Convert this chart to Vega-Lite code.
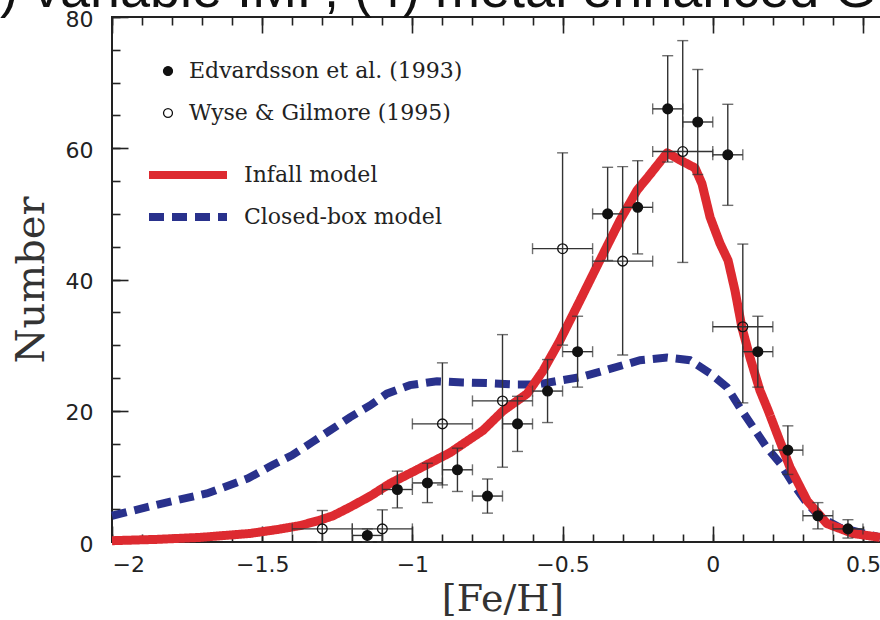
{
  "$schema": "https://vega.github.io/schema/vega-lite/v6.json",
  "width": 781,
  "height": 525,
  "autosize": {"type": "none"},
  "padding": {"left": 112, "top": 17, "right": 0, "bottom": 78},
  "title": {
    "text": ") variable IMF, (4) metal enhanced G",
    "anchor": "start",
    "frame": "group",
    "orient": "top",
    "font": "Liberation Sans",
    "fontSize": 54,
    "fontWeight": "normal",
    "color": "#111",
    "baseline": "alphabetic",
    "offset": -53,
    "limit": 1500,
    "dx": -112
  },
  "datasets": {
    "models": [
      {"model": "Closed-box model", "feh": -2.0, "n": 4.0},
      {"model": "Closed-box model", "feh": -1.83, "n": 5.9},
      {"model": "Closed-box model", "feh": -1.684, "n": 7.4},
      {"model": "Closed-box model", "feh": -1.547, "n": 9.7},
      {"model": "Closed-box model", "feh": -1.467, "n": 11.7},
      {"model": "Closed-box model", "feh": -1.401, "n": 13.2},
      {"model": "Closed-box model", "feh": -1.334, "n": 15.2},
      {"model": "Closed-box model", "feh": -1.274, "n": 17.0},
      {"model": "Closed-box model", "feh": -1.208, "n": 19.0},
      {"model": "Closed-box model", "feh": -1.141, "n": 20.8},
      {"model": "Closed-box model", "feh": -1.085, "n": 22.6},
      {"model": "Closed-box model", "feh": -1.008, "n": 23.9},
      {"model": "Closed-box model", "feh": -0.918, "n": 24.5},
      {"model": "Closed-box model", "feh": -0.832, "n": 24.3},
      {"model": "Closed-box model", "feh": -0.742, "n": 24.2},
      {"model": "Closed-box model", "feh": -0.652, "n": 24.0},
      {"model": "Closed-box model", "feh": -0.585, "n": 24.0},
      {"model": "Closed-box model", "feh": -0.509, "n": 24.6},
      {"model": "Closed-box model", "feh": -0.442, "n": 25.1},
      {"model": "Closed-box model", "feh": -0.386, "n": 25.8},
      {"model": "Closed-box model", "feh": -0.242, "n": 27.7},
      {"model": "Closed-box model", "feh": -0.152, "n": 28.1},
      {"model": "Closed-box model", "feh": -0.076, "n": 27.7},
      {"model": "Closed-box model", "feh": -0.009, "n": 25.7},
      {"model": "Closed-box model", "feh": 0.047, "n": 23.6},
      {"model": "Closed-box model", "feh": 0.09, "n": 20.5},
      {"model": "Closed-box model", "feh": 0.134, "n": 17.5},
      {"model": "Closed-box model", "feh": 0.18, "n": 14.4},
      {"model": "Closed-box model", "feh": 0.224, "n": 12.0},
      {"model": "Closed-box model", "feh": 0.267, "n": 8.9},
      {"model": "Closed-box model", "feh": 0.314, "n": 5.9},
      {"model": "Closed-box model", "feh": 0.357, "n": 3.8},
      {"model": "Closed-box model", "feh": 0.423, "n": 2.2},
      {"model": "Closed-box model", "feh": 0.557, "n": 0.7},
      {"model": "Infall model", "feh": -2.0, "n": 0.2},
      {"model": "Infall model", "feh": -1.85, "n": 0.4},
      {"model": "Infall model", "feh": -1.707, "n": 0.7},
      {"model": "Infall model", "feh": -1.541, "n": 1.3},
      {"model": "Infall model", "feh": -1.45, "n": 1.9},
      {"model": "Infall model", "feh": -1.374, "n": 2.5},
      {"model": "Infall model", "feh": -1.31, "n": 3.3},
      {"model": "Infall model", "feh": -1.264, "n": 4.0},
      {"model": "Infall model", "feh": -1.208, "n": 5.3},
      {"model": "Infall model", "feh": -1.14, "n": 7.0},
      {"model": "Infall model", "feh": -1.075, "n": 8.9},
      {"model": "Infall model", "feh": -0.985, "n": 11.0},
      {"model": "Infall model", "feh": -0.875, "n": 13.6},
      {"model": "Infall model", "feh": -0.765, "n": 17.0},
      {"model": "Infall model", "feh": -0.698, "n": 20.0},
      {"model": "Infall model", "feh": -0.618, "n": 22.6},
      {"model": "Infall model", "feh": -0.565, "n": 26.1},
      {"model": "Infall model", "feh": -0.509, "n": 30.7},
      {"model": "Infall model", "feh": -0.442, "n": 36.8},
      {"model": "Infall model", "feh": -0.376, "n": 42.9},
      {"model": "Infall model", "feh": -0.309, "n": 49.0},
      {"model": "Infall model", "feh": -0.252, "n": 53.6},
      {"model": "Infall model", "feh": -0.209, "n": 56.0},
      {"model": "Infall model", "feh": -0.152, "n": 59.3},
      {"model": "Infall model", "feh": -0.109, "n": 58.2},
      {"model": "Infall model", "feh": -0.059, "n": 57.0},
      {"model": "Infall model", "feh": -0.036, "n": 54.6},
      {"model": "Infall model", "feh": -0.009, "n": 49.5},
      {"model": "Infall model", "feh": 0.024, "n": 45.5},
      {"model": "Infall model", "feh": 0.051, "n": 42.9},
      {"model": "Infall model", "feh": 0.074, "n": 38.3},
      {"model": "Infall model", "feh": 0.097, "n": 32.7},
      {"model": "Infall model", "feh": 0.124, "n": 28.1},
      {"model": "Infall model", "feh": 0.157, "n": 23.1},
      {"model": "Infall model", "feh": 0.184, "n": 20.1},
      {"model": "Infall model", "feh": 0.214, "n": 16.5},
      {"model": "Infall model", "feh": 0.257, "n": 11.4},
      {"model": "Infall model", "feh": 0.314, "n": 6.3},
      {"model": "Infall model", "feh": 0.38, "n": 2.8},
      {"model": "Infall model", "feh": 0.467, "n": 1.3},
      {"model": "Infall model", "feh": 0.557, "n": 0.7}
    ],
    "obs": [
      {"dataset": "Edvardsson et al. (1993)", "feh": -1.15, "n": 1, "nlo": 0, "nhi": 2, "fehlo": -1.2, "fehhi": -1.1},
      {"dataset": "Edvardsson et al. (1993)", "feh": -1.05, "n": 8, "nlo": 5.2, "nhi": 10.8, "fehlo": -1.1, "fehhi": -1.0},
      {"dataset": "Edvardsson et al. (1993)", "feh": -0.95, "n": 9, "nlo": 6, "nhi": 12, "fehlo": -1.0, "fehhi": -0.9},
      {"dataset": "Edvardsson et al. (1993)", "feh": -0.85, "n": 11, "nlo": 7.7, "nhi": 14.3, "fehlo": -0.9, "fehhi": -0.8},
      {"dataset": "Edvardsson et al. (1993)", "feh": -0.75, "n": 7, "nlo": 4.4, "nhi": 9.6, "fehlo": -0.8, "fehhi": -0.7},
      {"dataset": "Edvardsson et al. (1993)", "feh": -0.65, "n": 18, "nlo": 13.8, "nhi": 22.2, "fehlo": -0.7, "fehhi": -0.6},
      {"dataset": "Edvardsson et al. (1993)", "feh": -0.55, "n": 23, "nlo": 18.2, "nhi": 27.8, "fehlo": -0.6, "fehhi": -0.5},
      {"dataset": "Edvardsson et al. (1993)", "feh": -0.45, "n": 29, "nlo": 23.6, "nhi": 34.4, "fehlo": -0.5, "fehhi": -0.4},
      {"dataset": "Edvardsson et al. (1993)", "feh": -0.35, "n": 50, "nlo": 42.9, "nhi": 57.1, "fehlo": -0.4, "fehhi": -0.3},
      {"dataset": "Edvardsson et al. (1993)", "feh": -0.25, "n": 51, "nlo": 43.9, "nhi": 58.1, "fehlo": -0.3, "fehhi": -0.2},
      {"dataset": "Edvardsson et al. (1993)", "feh": -0.15, "n": 66, "nlo": 57.9, "nhi": 74.1, "fehlo": -0.2, "fehhi": -0.1},
      {"dataset": "Edvardsson et al. (1993)", "feh": -0.05, "n": 64, "nlo": 56, "nhi": 72, "fehlo": -0.1, "fehhi": 0.0},
      {"dataset": "Edvardsson et al. (1993)", "feh": 0.05, "n": 59, "nlo": 51.3, "nhi": 66.7, "fehlo": 0.0, "fehhi": 0.1},
      {"dataset": "Edvardsson et al. (1993)", "feh": 0.15, "n": 29, "nlo": 23.6, "nhi": 34.4, "fehlo": 0.1, "fehhi": 0.2},
      {"dataset": "Edvardsson et al. (1993)", "feh": 0.25, "n": 14, "nlo": 10.3, "nhi": 17.7, "fehlo": 0.2, "fehhi": 0.3},
      {"dataset": "Edvardsson et al. (1993)", "feh": 0.35, "n": 4, "nlo": 2, "nhi": 6, "fehlo": 0.3, "fehhi": 0.4},
      {"dataset": "Edvardsson et al. (1993)", "feh": 0.45, "n": 2, "nlo": 0.6, "nhi": 3.4, "fehlo": 0.4, "fehhi": 0.5},
      {"dataset": "Wyse & Gilmore (1995)", "feh": -1.3, "n": 2, "nlo": 0, "nhi": 4.8, "fehlo": -1.4, "fehhi": -1.2},
      {"dataset": "Wyse & Gilmore (1995)", "feh": -1.1, "n": 2, "nlo": 0, "nhi": 4.9, "fehlo": -1.2, "fehhi": -1.0},
      {"dataset": "Wyse & Gilmore (1995)", "feh": -0.9, "n": 18, "nlo": 8.7, "nhi": 27.3, "fehlo": -1.0, "fehhi": -0.8},
      {"dataset": "Wyse & Gilmore (1995)", "feh": -0.7, "n": 21.5, "nlo": 11.4, "nhi": 31.6, "fehlo": -0.8, "fehhi": -0.6},
      {"dataset": "Wyse & Gilmore (1995)", "feh": -0.5, "n": 44.7, "nlo": 30, "nhi": 59.3, "fehlo": -0.6, "fehhi": -0.4},
      {"dataset": "Wyse & Gilmore (1995)", "feh": -0.3, "n": 42.8, "nlo": 28.5, "nhi": 57.2, "fehlo": -0.4, "fehhi": -0.2},
      {"dataset": "Wyse & Gilmore (1995)", "feh": -0.1, "n": 59.5, "nlo": 42.6, "nhi": 76.4, "fehlo": -0.2, "fehhi": 0.0},
      {"dataset": "Wyse & Gilmore (1995)", "feh": 0.1, "n": 32.8, "nlo": 21.2, "nhi": 45.4, "fehlo": 0.0, "fehhi": 0.2}
    ]
  },
  "layer": [
    {
      "data": {"name": "models"},
      "transform": [{"filter": "datum.model === 'Closed-box model'"}],
      "mark": {"type": "line", "strokeWidth": 8, "strokeCap": "butt"},
      "encoding": {
        "x": {"field": "feh", "type": "quantitative", "scale": {"domain": [-2, 0.6], "nice": false, "zero": false},
          "axis": {"orient": "bottom", "values": [-2, -1.9, -1.8, -1.7, -1.6, -1.5, -1.4, -1.3, -1.2, -1.1, -1, -0.9, -0.8, -0.7, -0.6, -0.5, -0.4, -0.3, -0.2, -0.1, 0, 0.1, 0.2, 0.3, 0.4, 0.5, 0.6], "tickSize": -8, "labels": false, "title": null}},
        "y": {"field": "n", "type": "quantitative", "scale": {"domain": [0, 80], "nice": false, "zero": false},
          "axis": {"orient": "left", "values": [0, 5, 10, 15, 20, 25, 30, 35, 40, 45, 50, 55, 60, 65, 70, 75, 80], "tickSize": -8, "labels": false, "title": null}},
        "stroke": {"field": "model", "type": "nominal", "scale": {"domain": ["Infall model", "Closed-box model"], "range": ["#dd2a30", "#29318c"]},
          "legend": {"orient": "none", "legendX": 33, "legendY": 148, "title": null, "symbolType": "stroke", "symbolSize": 6084, "symbolStrokeWidth": 8, "labelOffset": 13, "rowPadding": 20, "clipHeight": 20, "padding": 0}},
        "strokeDash": {"field": "model", "type": "nominal", "scale": {"domain": ["Infall model", "Closed-box model"], "range": [[1, 0], [15, 8]]},
          "legend": {"orient": "none", "legendX": 33, "legendY": 148, "title": null, "symbolType": "stroke", "symbolSize": 6084, "symbolStrokeWidth": 8, "labelOffset": 13, "rowPadding": 20, "clipHeight": 20, "padding": 0}}
      }
    },
    {
      "data": {"name": "models"},
      "transform": [{"filter": "datum.model === 'Infall model'"}],
      "mark": {"type": "line", "strokeWidth": 9, "strokeJoin": "round"},
      "encoding": {
        "x": {"field": "feh", "type": "quantitative", "scale": {"domain": [-2, 0.6], "nice": false, "zero": false},
          "axis": {"orient": "bottom", "values": [-2, -1.5, -1, -0.5, 0, 0.5], "format": "~g", "tickSize": -16, "labelPadding": 28, "title": "[Fe/H]", "titleFontSize": 38, "titlePadding": 5}},
        "y": {"field": "n", "type": "quantitative", "scale": {"domain": [0, 80], "nice": false, "zero": false},
          "axis": {"orient": "left", "values": [0, 20, 40, 60, 80], "format": "d", "tickSize": -16, "labelPadding": 35, "labelOffset": 2, "title": "Number", "titleFontSize": 40, "titleBaseline": "alphabetic", "titlePadding": 22}},
        "stroke": {"field": "model", "type": "nominal", "scale": {"domain": ["Infall model", "Closed-box model"], "range": ["#dd2a30", "#29318c"]},
          "legend": {"orient": "none", "legendX": 33, "legendY": 148, "title": null, "symbolType": "stroke", "symbolSize": 6084, "symbolStrokeWidth": 8, "labelOffset": 13, "rowPadding": 20, "clipHeight": 20, "padding": 0}},
        "strokeDash": {"field": "model", "type": "nominal", "scale": {"domain": ["Infall model", "Closed-box model"], "range": [[1, 0], [15, 8]]},
          "legend": {"orient": "none", "legendX": 33, "legendY": 148, "title": null, "symbolType": "stroke", "symbolSize": 6084, "symbolStrokeWidth": 8, "labelOffset": 13, "rowPadding": 20, "clipHeight": 20, "padding": 0}}
      }
    },
    {
      "data": {"name": "obs"},
      "mark": {"type": "errorbar", "ticks": {"size": 11, "thickness": 1.4, "color": "#333"}, "rule": {"strokeWidth": 1.4, "color": "#333"}},
      "encoding": {
        "x": {"field": "feh", "type": "quantitative",
          "axis": {"orient": "top", "values": [-2, -1.9, -1.8, -1.7, -1.6, -1.5, -1.4, -1.3, -1.2, -1.1, -1, -0.9, -0.8, -0.7, -0.6, -0.5, -0.4, -0.3, -0.2, -0.1, 0, 0.1, 0.2, 0.3, 0.4, 0.5, 0.6], "tickSize": -8, "labels": false, "title": null}},
        "y": {"field": "nlo", "type": "quantitative", "axis": null},
        "y2": {"field": "nhi"}
      }
    },
    {
      "data": {"name": "obs"},
      "mark": {"type": "errorbar", "ticks": {"size": 11, "thickness": 1.4, "color": "#333"}, "rule": {"strokeWidth": 1.4, "color": "#333"}},
      "encoding": {
        "x": {"field": "fehlo", "type": "quantitative",
          "axis": {"orient": "top", "values": [-2, -1.5, -1, -0.5, 0, 0.5], "tickSize": -16, "labels": false, "title": null}},
        "x2": {"field": "fehhi"},
        "y": {"field": "n", "type": "quantitative", "axis": null}
      }
    },
    {
      "data": {"name": "obs"},
      "mark": {"type": "point", "shape": "circle", "size": 95, "stroke": "#111", "strokeWidth": 1.3, "opacity": 1},
      "encoding": {
        "x": {"field": "feh", "type": "quantitative", "axis": null},
        "y": {"field": "n", "type": "quantitative", "axis": null},
        "fill": {"field": "dataset", "type": "nominal", "scale": {"domain": ["Edvardsson et al. (1993)", "Wyse & Gilmore (1995)"], "range": ["#111111", "transparent"]},
          "legend": {"orient": "none", "legendX": 45, "legendY": 44, "title": null, "symbolType": "circle", "symbolSize": 80, "symbolStrokeColor": "#111", "symbolStrokeWidth": 1.3, "symbolOpacity": 1, "labelOffset": 10, "rowPadding": 20, "clipHeight": 20, "padding": 0}}
      }
    }
  ],
  "resolve": {"axis": {"x": "independent", "y": "independent"}},
  "config": {
    "view": {"stroke": "#222", "strokeWidth": 2},
    "axis": {"domain": false, "grid": false, "tickColor": "#222", "tickWidth": 1.6, "labelFont": "DejaVu Sans", "labelFontSize": 22, "labelColor": "#222", "titleFont": "DejaVu Serif", "titleFontWeight": "normal", "titleColor": "#333"},
    "legend": {"labelFont": "DejaVu Serif", "labelFontSize": 22, "labelColor": "#222", "labelLimit": 400}
  }
}
